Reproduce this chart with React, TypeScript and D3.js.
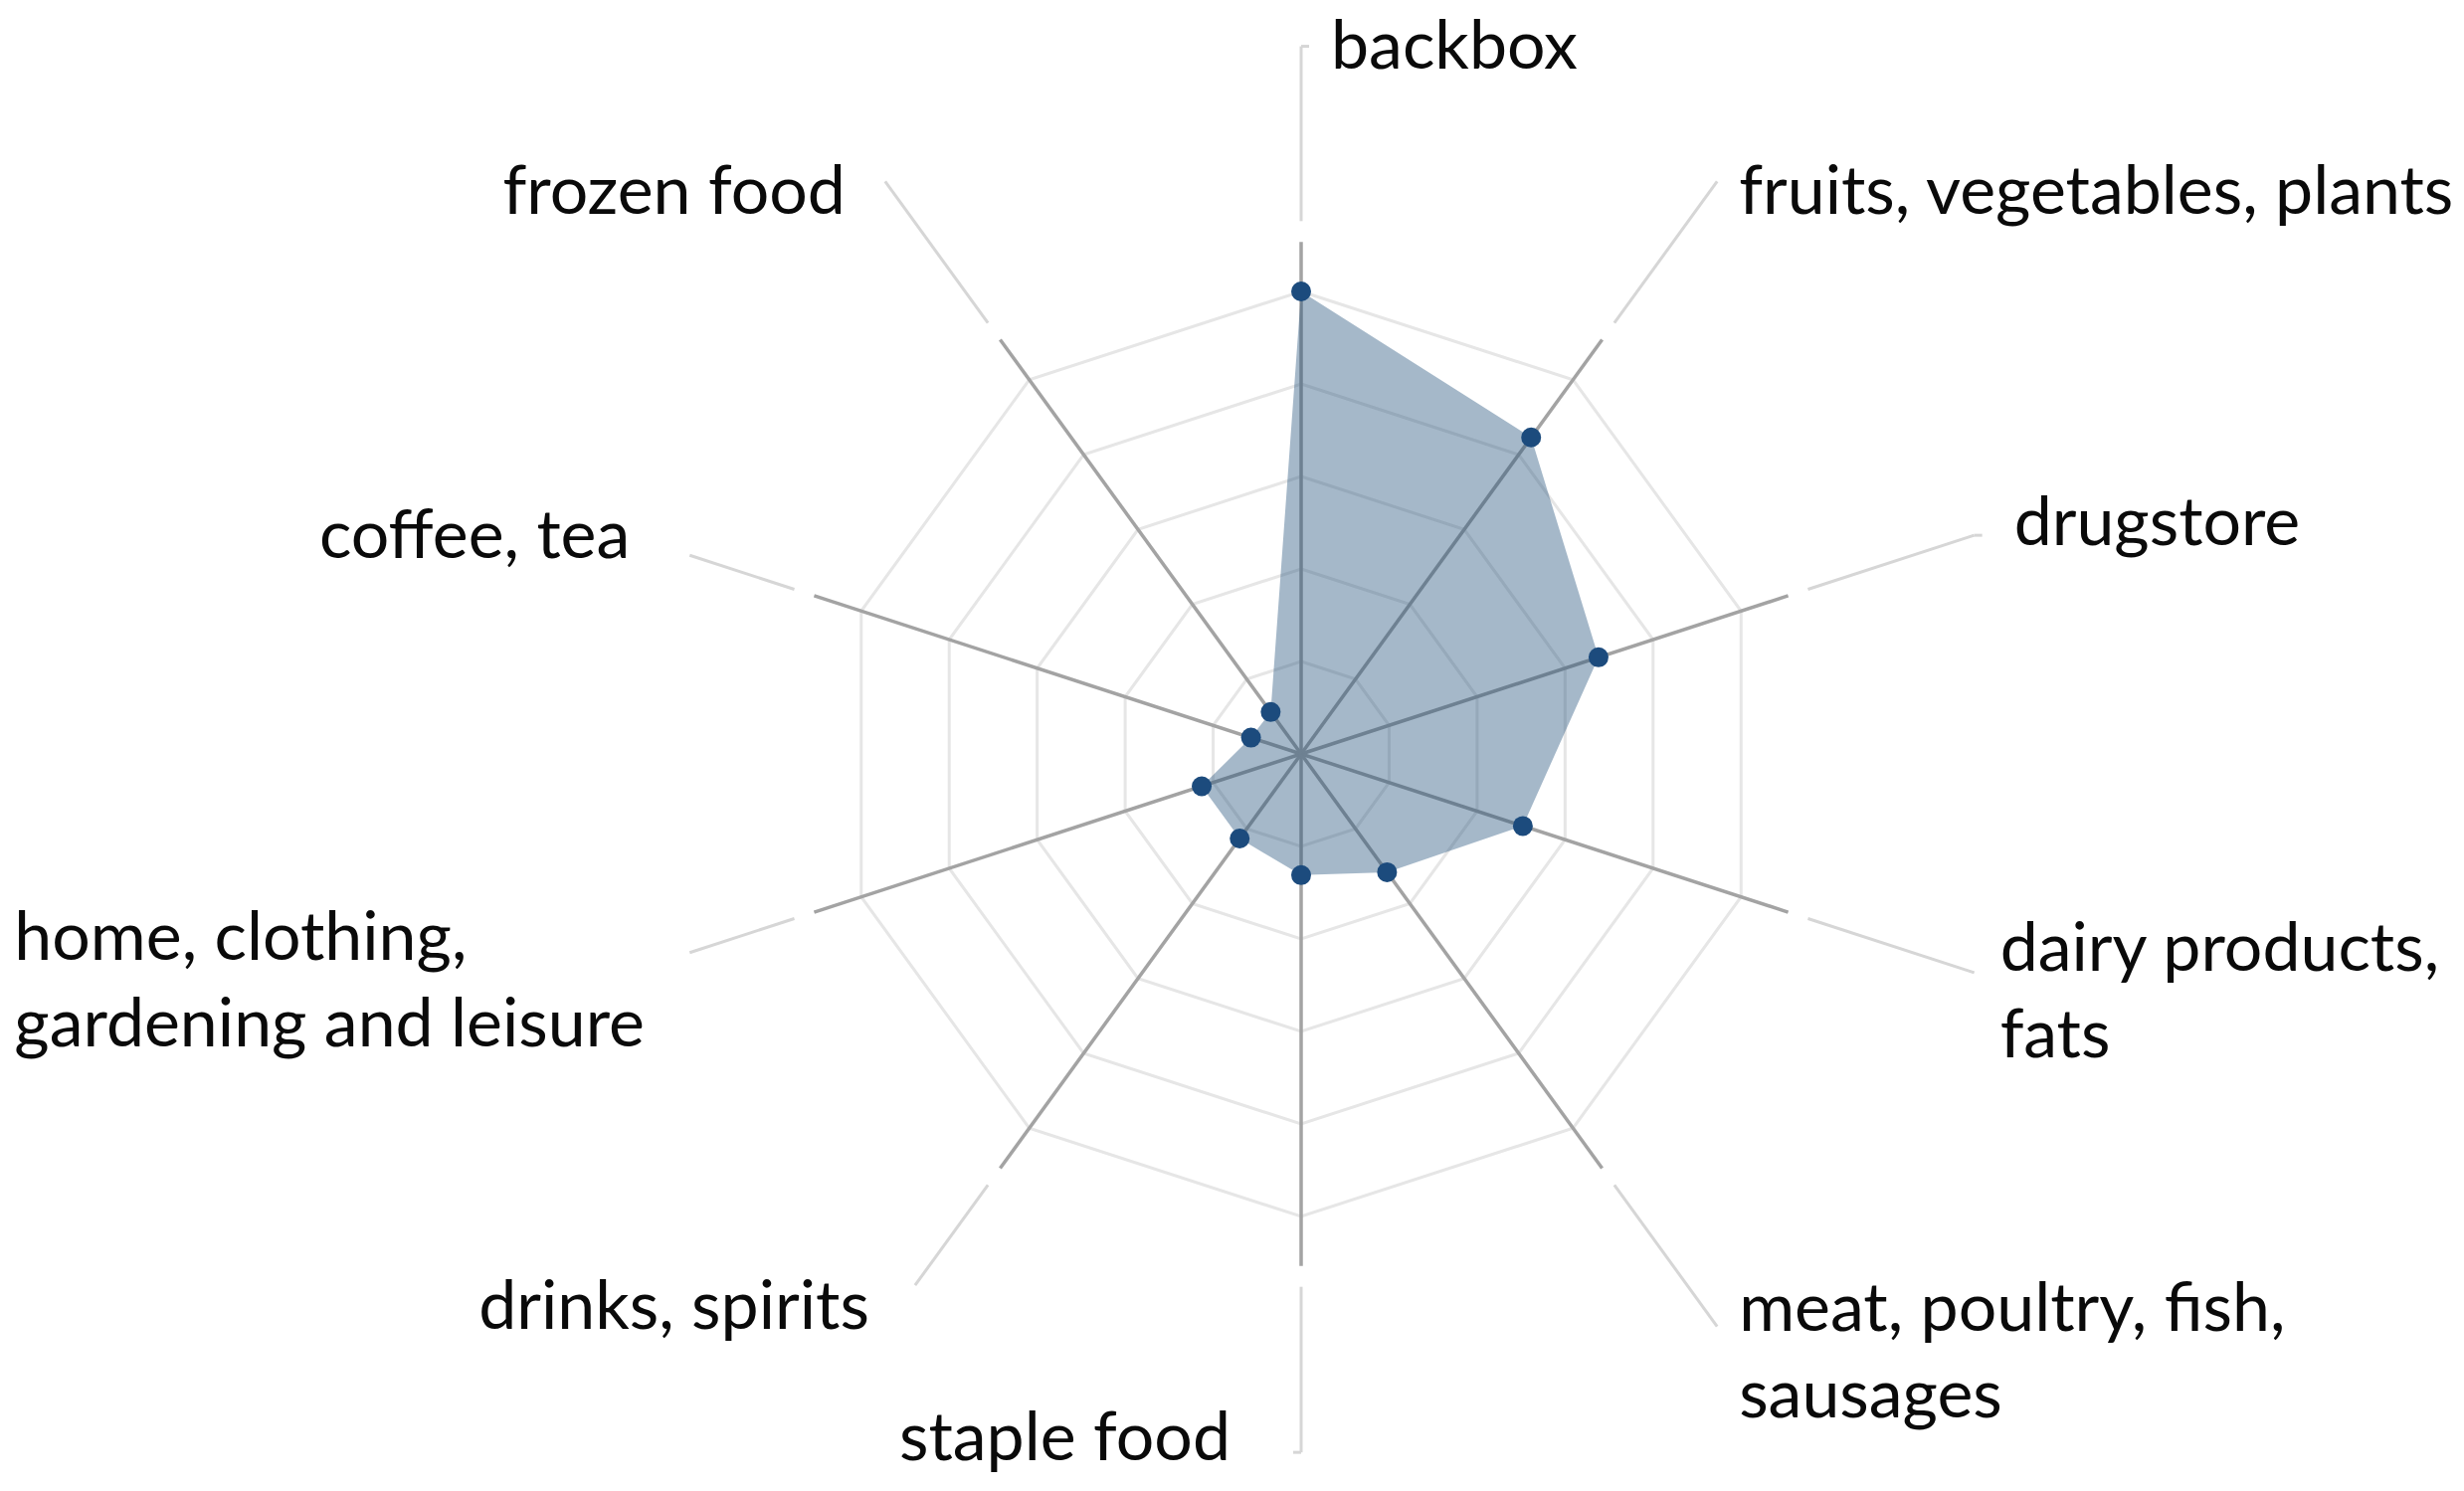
import * as d3 from 'd3';

// axis categories, clockwise from the top
const categories = [
  'backbox',
  'fruits, vegetables, plants',
  'drugstore',
  'dairy products, fats',
  'meat, poultry, fish, sausages',
  'staple food',
  'drinks, spirits',
  'home, clothing, gardening and leisure',
  'coffee, tea',
  'frozen food',
];

// how each category label is broken into lines
const labelLines = [
  ['backbox'],
  ['fruits, vegetables, plants'],
  ['drugstore'],
  ['dairy products,', 'fats'],
  ['meat, poultry, fish,', 'sausages'],
  ['staple food'],
  ['drinks, spirits'],
  ['home, clothing,', 'gardening and leisure'],
  ['coffee, tea'],
  ['frozen food'],
];

// series values
const values = [50, 42.3, 33.8, 25.2, 15.8, 13.1, 11.3, 11.3, 5.7, 5.6];

// grid ring levels
const ringTicks = [10, 20, 30, 40, 50];

// label placement: leader end radius (x outer ring), anchor, offset from leader end
const labelLayout = [
  { lead: 1.53, anchor: 'start', dx: 30, dy: 22, hook: 1 },
  { lead: 1.53, anchor: 'start', dx: 22, dy: 33, hook: 0 },
  { lead: 1.53, anchor: 'start', dx: 40, dy: 10, hook: 1 },
  { lead: 1.53, anchor: 'start', dx: 26, dy: -2, hook: 0 },
  { lead: 1.53, anchor: 'start', dx: 22, dy: 4, hook: 0 },
  { lead: 1.51, anchor: 'end', dx: -71, dy: 8, hook: -1 },
  { lead: 1.42, anchor: 'end', dx: -46, dy: 44, hook: 0 },
  { lead: 1.39, anchor: 'start', dx: -679, dy: 7, hook: 0 },
  { lead: 1.39, anchor: 'end', dx: -60, dy: 3, hook: 0 },
  { lead: 1.53, anchor: 'end', dx: -40, dy: 33, hook: 0 },
];

const width = 2477;
const height = 1499;
const cx = 1308;
const cy = 758;
const outerR = 465;
const lineHeight = 87;

export default function App() {
  const n = categories.length;
  const r = d3.scaleLinear().domain([0, d3.max(ringTicks) as number]).range([0, outerR]);
  const angle = d3.scaleLinear().domain([0, n]).range([0, 2 * Math.PI]);

  const px = (i: number, rad: number) => rad * Math.sin(angle(i));
  const py = (i: number, rad: number) => -rad * Math.cos(angle(i));

  const ring = (t: number) =>
    d3
      .lineRadial<number>()
      .angle((_, i) => angle(i))
      .radius(() => r(t))
      .curve(d3.curveLinearClosed)(categories.map(() => t)) as string;

  const area = d3
    .lineRadial<number>()
    .angle((_, i) => angle(i))
    .radius((d) => r(d))
    .curve(d3.curveLinearClosed)(values) as string;

  const axisEnd = outerR * 1.107;
  const leadStart = outerR * 1.152;

  return (
    <svg
      width={width}
      height={height}
      style={{ position: 'absolute', left: 0, top: 0, background: '#fff' }}
    >
      <g transform={`translate(${cx},${cy})`}>
        {ringTicks.map((t) => (
          <path key={t} d={ring(t)} fill="none" stroke="#e6e6e6" strokeWidth={3} />
        ))}
        {categories.map((c, i) => (
          <line
            key={c}
            x1={0}
            y1={0}
            x2={px(i, axisEnd)}
            y2={py(i, axisEnd)}
            stroke="#a3a3a3"
            strokeWidth={3.5}
          />
        ))}
        {categories.map((c, i) => {
          const L = labelLayout[i];
          const ex = px(i, outerR * L.lead);
          const ey = py(i, outerR * L.lead);
          return (
            <g key={c}>
              <line
                x1={px(i, leadStart)}
                y1={py(i, leadStart)}
                x2={ex}
                y2={ey}
                stroke="#d6d6d6"
                strokeWidth={3}
              />
              {L.hook !== 0 && (
                <line x1={ex} y1={ey} x2={ex + L.hook * 8} y2={ey} stroke="#d6d6d6" strokeWidth={3} />
              )}
            </g>
          );
        })}
        <path d={area} fill="rgb(31,78,121)" fillOpacity={0.4} stroke="none" />
        {values.map((v, i) => (
          <circle key={categories[i]} cx={px(i, r(v))} cy={py(i, r(v))} r={10} fill="#1c4b7d" />
        ))}
        {categories.map((c, i) => {
          const L = labelLayout[i];
          const ex = px(i, outerR * L.lead) + L.dx;
          const ey = py(i, outerR * L.lead) + L.dy;
          return (
            <text
              key={c}
              x={ex}
              y={ey}
              textAnchor={L.anchor}
              fontFamily="Lato, 'Open Sans', sans-serif"
              fontSize={68}
              fill="#0a0a0a"
            >
              {labelLines[i].map((line, j) => (
                <tspan key={j} x={ex} dy={j === 0 ? 0 : lineHeight}>
                  {line}
                </tspan>
              ))}
            </text>
          );
        })}
      </g>
    </svg>
  );
}
